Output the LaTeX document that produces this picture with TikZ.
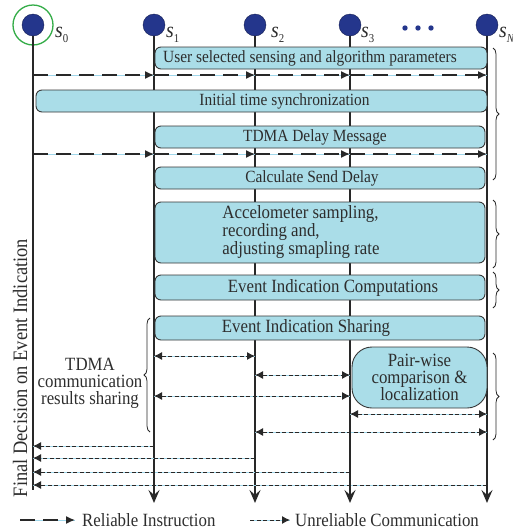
\documentclass[tikz,border=0pt]{standalone}
\usepackage{fontspec}
\setmainfont{Liberation Serif}[FakeStretch=0.9]
\usetikzlibrary{arrows.meta,decorations.pathreplacing}
\definecolor{stationblue}{RGB}{36,54,140}
\definecolor{ringgreen}{RGB}{52,172,72}
\definecolor{boxfill}{RGB}{170,221,232}
\definecolor{boxline}{RGB}{55,55,55}
\definecolor{lifegray}{RGB}{40,40,40}
\definecolor{textgray}{RGB}{45,45,45}
\definecolor{gapblue}{RGB}{160,215,235}
\newcommand{\sname}[1]{{\fontsize{22}{22}\selectfont\textit{s}}\raisebox{-5pt}{\fontsize{12}{12}\selectfont #1}}
\tikzset{utip/.tip={Latex[length=8pt,width=8pt]}}

\begin{document}
\begin{tikzpicture}[x=1pt,y=-1pt,
  font=\fontsize{18.7}{17}\selectfont, text=textgray,
  tfont/.style={font=\fontsize{17.1}{19}\selectfont},
  station/.style={circle, fill=stationblue, draw=stationblue!60!black, minimum size=22pt, inner sep=0pt},
  slabel/.style={anchor=base west, inner sep=0pt},
  life/.style={line width=1.8pt, draw=lifegray},
  box/.style={draw=boxline, fill=boxfill, rounded corners=6pt, line width=0.9pt, inner sep=0pt},
  rel/.style={draw=lifegray, line width=1.4pt, dash pattern=on 15pt off 8pt, -{Latex[length=9pt,width=8pt]},
    preaction={draw=gapblue, solid, line width=0.9pt, -}},
  unrel/.style={draw=lifegray, line width=1pt, dash pattern=on 4pt off 2.5pt, utip-utip,
    preaction={draw=gapblue, solid, line width=0.7pt, -}},
  brc/.style={decorate, decoration={brace, amplitude=6pt}, line width=0.8pt, draw=lifegray}]

\useasboundingbox (0,0) rectangle (513,531);

% stations
\node[station] (s0) at (33,25) {};
\node[draw=ringgreen, circle, minimum size=40pt, line width=1.3pt] (ring) at (s0) {};
\node[station] (s1) at (154,25) {};
\node[station] (s2) at (255,25) {};
\node[station] (s3) at (350,25) {};
\node[station] (sN) at (487,25) {};
\node[slabel] (l0) at (55,37) {\sname{0}};
\node[slabel] (l1) at (166,37) {\sname{1}};
\node[slabel] (l2) at (271,37) {\sname{2}};
\node[slabel] (l3) at (361,37) {\sname{3}};
\node[slabel] (lN) at (499,37) {\sname{\textit{N}}};
\foreach \x in {405,418,431} \fill[stationblue] (\x,28) circle (2.7pt);

% life lines
\coordinate (bot0) at (0,490);
\coordinate (bot) at (0,503);
\draw[life] (s0) -- (s0 |- bot0);
\foreach \s in {s1,s2,s3,sN}
  \draw[life, -{Stealth[length=13pt,width=11pt,inset=5pt]}] (\s) -- (\s |- bot);

% boxes
\node[box, minimum width=332pt, minimum height=22pt, label={[tfont, xshift=-11pt]center:User selected sensing and algorithm parameters}] (usr) at (321,58) {};
\node[box, minimum width=451pt, minimum height=22pt, label={[tfont, xshift=23pt]center:Initial time synchronization}] (sync) at (261.5,101) {};
\node[box, minimum width=330pt, minimum height=22pt, label={[tfont, xshift=-5pt]center:TDMA Delay Message}] (tdma) at (320,137) {};
\node[box, minimum width=330pt, minimum height=22pt, label={[tfont, xshift=-8pt]center:Calculate Send Delay}] (calc) at (320,178) {};
\node[box, minimum width=330pt, minimum height=61pt, label={[xshift=-19pt, align=left]center:Accelometer sampling,\\recording and,\\adjusting smapling rate}] (acc) at (320,232.5) {};
\node[box, minimum width=330pt, minimum height=25pt, label={[xshift=13pt]center:Event Indication Computations}] (comp) at (320,287.5) {};
\node[box, minimum width=330pt, minimum height=24pt, label={[xshift=-14pt]center:Event Indication Sharing}] (share) at (320,328) {};
\node[box, rounded corners=20pt, minimum width=135pt, minimum height=61pt, align=center] (pair) at (419.5,377.5) {Pair-wise\\comparison \&\\localization};

% reliable instructions
\coordinate (r1) at (0,75);
\coordinate (r2) at (0,154);
\foreach \r in {r1,r2} {
  \draw[rel] (s0 |- \r) -- (s1 |- \r);
  \draw[rel] (s1 |- \r) -- (s2 |- \r);
  \draw[rel] (s2 |- \r) -- (s3 |- \r);
  \draw[rel] (s3 |- \r) -- (sN |- \r);
}

% unreliable communication
\coordinate (u1) at (0,356);
\coordinate (u2) at (0,375);
\coordinate (u3) at (0,396);
\coordinate (u4) at (0,414);
\coordinate (u5) at (0,432);
\draw[unrel] (s1 |- u1) -- (s2 |- u1);
\draw[unrel] (s2 |- u2) -- (s3 |- u2);
\draw[unrel] (s1 |- u3) -- (s3 |- u3);
\draw[unrel] (s3 |- u4) -- (sN |- u4);
\draw[unrel] (s2 |- u5) -- (sN |- u5);
\coordinate (f1) at (0,446);
\coordinate (f2) at (0,458);
\coordinate (f3) at (0,472);
\coordinate (f4) at (0,485);
\draw[unrel, -utip] (s1 |- f1) -- (s0 |- f1);
\draw[unrel, -utip] (s2 |- f2) -- (s0 |- f2);
\draw[unrel, -utip] (s3 |- f3) -- (s0 |- f3);
\draw[unrel, -utip] (sN |- f4) -- (s0 |- f4);

% braces
\draw[brc] (493,48) -- (493,180);
\draw[brc] (493,200) -- (493,268);
\draw[brc] (493,272) -- (493,308);
\draw[brc] (493,353) -- (493,440);
\draw[brc] (150,432) -- (150,318);

% side texts
\node[align=center] (tdmatxt) at (90,383) {TDMA\\communication\\results sharing};
\node[rotate=90, font=\fontsize{20.5}{22}\selectfont] (final) at (20,368) {Final Decision on Event Indication};

% legend
\coordinate (la) at (20,520);
\coordinate (lb) at (75,520);
\coordinate (lc) at (250,520);
\coordinate (ld) at (290,520);
\draw[rel] (la) -- (lb);
\node[anchor=west, inner sep=0pt] (reltxt) at (82,520) {Reliable Instruction};
\draw[unrel, -utip] (lc) -- (ld);
\node[anchor=west, inner sep=0pt] (unreltxt) at (295,520) {Unreliable Communication};
\end{tikzpicture}
\end{document}
